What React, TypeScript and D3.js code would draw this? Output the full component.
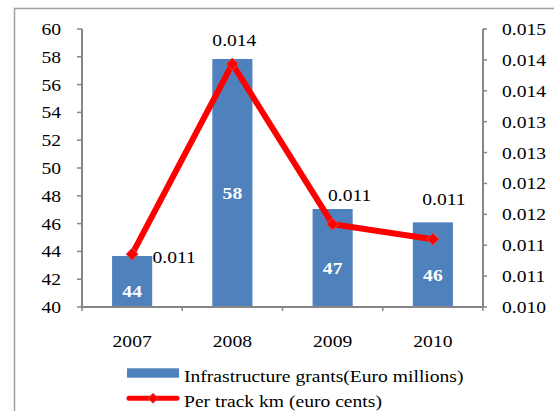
import React from "react"
import * as d3 from "d3"

// chart values
const years = ["2007", "2008", "2009", "2010"]
const grants = [43.67, 57.84, 47.05, 46.09]
const grantLabels = ["44", "58", "47", "46"]
const perKm = [0.01095, 0.01437, 0.01149, 0.01122]
const leftTicks = [40, 42, 44, 46, 48, 50, 52, 54, 56, 58, 60]
const rightTickLabels = ["0.010", "0.011", "0.011", "0.012", "0.012", "0.013", "0.013", "0.014", "0.014", "0.015"]
const legendNames = ["Infrastructure grants(Euro millions)", "Per track km (euro cents)"]

// where Excel put the line labels, relative to the marker
const lineLabelNudge: [number, number][] = [[42, 3], [2, -24], [17, -29], [11, -40]]

const W = 554
const H = 411
const FONT = "Liberation Serif, Tinos, Times New Roman, DejaVu Serif, serif"
const FS = 17.5
const SX = 1.12 // the source picture is a bit stretched sideways
const AXIS = "#868686"
const BLUE = "#4F81BD"
const RED = "#FF0000"

function T(props: { x: number, y: number, anchor?: string, fill?: string, bold?: boolean, size?: number, children: React.ReactNode }) {
    const size = props.size || FS
    return (
        <text
            transform={`translate(${props.x},${props.y}) scale(${SX},1)`}
            textAnchor={props.anchor || "start"}
            style={{ fontFamily: FONT, fontSize: size + "px", fontWeight: props.bold ? 700 : 400 }}
            fill={props.fill || "#000"}
        >{props.children}</text>
    )
}

const diamond = (cx: number, cy: number, r: number) =>
    `M${cx},${cy - r}L${cx + r},${cy}L${cx},${cy + r}L${cx - r},${cy}Z`

export default function App() {
    const [left, right, top, bottom] = [82, 483, 29, 307]

    const x = d3.scaleBand<string>().domain(years).range([left, right]).padding(0)
    const yL = d3.scaleLinear().domain([40, 60]).range([bottom, top])
    const yR = d3.scaleLinear().domain([0.010, 0.015]).range([bottom, top])
    const fmt = d3.format(".3f")

    const barW = x.bandwidth() * 0.4
    const cx = (i: number) => (x(years[i]) as number) + x.bandwidth() / 2

    const line = d3.line<number>()
        .x((_, i) => cx(i))
        .y((d) => yR(d))

    const rightStep = 0.005 / (rightTickLabels.length - 1)
    const digitMid = FS * 0.34

    return (
        <svg width={W} height={H} style={{ position: "absolute", left: 0, top: 0, background: "#fff" }}>
            <rect x={14.5} y={8.5} width={W + 20} height={H + 20} fill="#fff" stroke="#a0a0a0" strokeWidth={1.5} />

            {/* bars */}
            {grants.map((v, i) => (
                <rect key={"b" + i} x={cx(i) - barW / 2} y={yL(v)} width={barW} height={bottom - yL(v)} fill={BLUE} />
            ))}

            {/* left axis */}
            <line x1={left} x2={left} y1={top} y2={bottom} stroke={AXIS} strokeWidth={2} />
            {leftTicks.map((t) => (
                <g key={"l" + t}>
                    <line x1={left - 5} x2={left} y1={yL(t)} y2={yL(t)} stroke={AXIS} strokeWidth={1.5} />
                    <T x={61} y={yL(t) + digitMid} anchor="end">{t}</T>
                </g>
            ))}

            {/* right axis */}
            <line x1={right} x2={right} y1={top} y2={bottom} stroke={AXIS} strokeWidth={2} />
            {rightTickLabels.map((lab, i) => {
                const ty = yR(0.010 + i * rightStep)
                return (
                    <g key={"r" + i}>
                        <line x1={right} x2={right + 4} y1={ty} y2={ty} stroke={AXIS} strokeWidth={1.5} />
                        <T x={502} y={ty + digitMid}>{lab}</T>
                    </g>
                )
            })}

            {/* x axis */}
            <line x1={left} x2={right} y1={bottom} y2={bottom} stroke={AXIS} strokeWidth={2} />
            {years.map((yr, i) => (
                <g key={"x" + yr}>
                    <line x1={x(yr) as number} x2={x(yr) as number} y1={bottom} y2={bottom + 4} stroke={AXIS} strokeWidth={1.5} />
                    {i == years.length - 1 && <line x1={right} x2={right} y1={bottom} y2={bottom + 4} stroke={AXIS} strokeWidth={1.5} />}
                    <T x={cx(i)} y={341 + digitMid} anchor="middle">{yr}</T>
                </g>
            ))}

            {/* bar labels */}
            {grants.map((v, i) => (
                <T key={"bl" + i} x={cx(i)} y={(yL(v) + bottom) / 2 + 10 + digitMid} anchor="middle" fill="#fff" bold>{grantLabels[i]}</T>
            ))}

            {/* line + markers */}
            <path d={line(perKm) as string} fill="none" stroke={RED} strokeWidth={6} strokeLinejoin="miter" />
            {perKm.map((v, i) => (
                <path key={"m" + i} d={diamond(cx(i), yR(v), 6)} fill={RED} stroke="#d9534f" strokeWidth={1} />
            ))}
            {perKm.map((v, i) => (
                <T key={"ml" + i} x={cx(i) + lineLabelNudge[i][0]} y={yR(v) + lineLabelNudge[i][1] + digitMid} anchor="middle">{fmt(v)}</T>
            ))}

            {/* legend */}
            <rect x={127} y={368.3} width={52} height={9.4} fill={BLUE} />
            <T x={184} y={381.7}>{legendNames[0]}</T>
            <line x1={129} x2={177} y1={398.3} y2={398.3} stroke={RED} strokeWidth={5} strokeLinecap="round" />
            <path d={diamond(153, 398.3, 5)} fill={RED} stroke="#d9534f" strokeWidth={1} />
            <T x={184} y={407}>{legendNames[1]}</T>
        </svg>
    )
}
